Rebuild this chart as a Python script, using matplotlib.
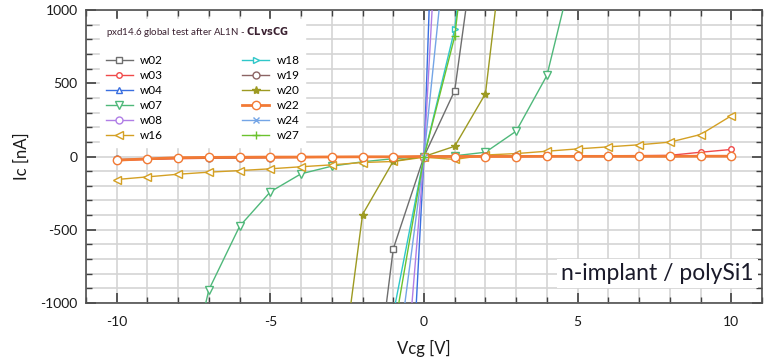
"""
Ic vs Vcg sweep, pxd14.6 global test after AL1N (CLvsCG), n-implant / polySi1
"""
import numpy as np
import matplotlib
matplotlib.use('Agg')
import matplotlib.pyplot as plt
from matplotlib.ticker import MultipleLocator

plt.rcParams['font.family'] = ['Lato', 'DejaVu Sans']
plt.rcParams['axes.unicode_minus'] = False

# ── Data ─────────────────────────────────────────────────────────────────────
vcg = [-10, -9, -8, -7, -6, -5, -4, -3, -2, -1, 0, 1, 2, 3, 4, 5, 6, 7, 8, 9, 10]

w02 = [-12000, -11000, -10000, -9000, -8000, -7000, -6000, -4000, -2300, -630, 0,
       450, 1980, 4000, 6000, 8000, 10000, 12000, 14000, 16000, 18000]
w03 = [-28, -20, -15, -12, -10, -8, -6, -5, -4, -3, 0,
       1, 2, 2, 3, 4, 5, 6, 8, 29, 48]
w04 = [-40000, -36000, -32000, -28000, -24000, -20000, -16000, -12000, -8000, -4000, 0,
       6000, 12000, 18000, 24000, 30000, 36000, 42000, 48000, 54000, 60000]
w07 = [-7000, -3500, -1800, -909, -476, -241, -118, -66, -36, -15, 0,
       5, 29, 173, 553, 1410, 3000, 6000, 12000, 24000, 48000]
w08 = [-25600, -23000, -20500, -18000, -15400, -12800, -10200, -7700, -5100, -2560, 0,
       3800, 7600, 11400, 15200, 19000, 22800, 26600, 30400, 34200, 38000]
w16 = [-157, -139, -121, -107, -96, -84, -70, -57, -41, -34, -5,
       -20, 10, 20, 36, 52, 66, 80, 98, 150, 278]
w18 = [-10000, -9000, -8000, -7000, -6400, -5400, -4300, -3200, -2150, -1075, 0,
       870, 2700, 4500, 6300, 8100, 9900, 11700, 13500, 15300, 17100]
w19 = [-20, -16, -12, -10, -8, -7, -6, -5, -4, -2, 0,
       0, 1, 1, 2, 2, 3, 3, 4, 4, 5]
w20 = [-12000, -10000, -8500, -7000, -6000, -5000, -3500, -2000, -396, -32, 0,
       70, 429, 2200, 4000, 6000, 8000, 10000, 12000, 14000, 16000]
w22 = [-25, -16, -8, -6, -5, -4, -4, -3, -2, -2, 0,
       0, 0, 0, 1, 1, 1, 1, 1, 2, 2]
w24 = [-16100, -14500, -12900, -11300, -9700, -8000, -6400, -4800, -3200, -1610, 0,
       2040, 4080, 6100, 8200, 10200, 12200, 14300, 16300, 18400, 20400]
w27 = [-12200, -11000, -9800, -8500, -7300, -6100, -4900, -3700, -2400, -1220, 0,
       820, 2600, 4400, 6200, 8000, 9800, 11600, 13400, 15200, 17000]

series = [
    ('w02', w02, '#6e6e6e', 's', 5, 1.0),
    ('w03', w03, '#f04a4a', 'o', 4, 1.0),
    ('w04', w04, '#3a6fe0', '^', 5, 1.0),
    ('w07', w07, '#4fb87a', 'v', 6, 1.0),
    ('w08', w08, '#b07ee6', 'o', 5, 1.0),
    ('w16', w16, '#d4a024', '<', 6, 1.0),
    ('w18', w18, '#2fc7c9', '>', 5, 1.0),
    ('w19', w19, '#8c6464', 'o', 5, 1.0),
    ('w20', w20, '#9d9a22', '*', 6, 1.0),
    ('w22', w22, '#f27a35', 'o', 6, 2.0),
    ('w24', w24, '#74a5e6', 'x', 5, 1.0),
    ('w27', w27, '#6cc22e', '+', 6, 1.0),
]

# ── Figure ────────────────────────────────────────────────────────────────────
fig = plt.figure(figsize=(7.69, 3.61), dpi=100)
ax = fig.add_axes([86 / 769, 58 / 361, 676 / 769, 293 / 361])

for name, vals, col, mk, ms, lw in series:
    filled = mk in ('*', 'x', '+')
    ax.plot(vcg, vals, color=col, lw=lw, marker=mk, ms=ms,
            mfc=col if filled else 'white', mec=col, mew=1.0, label=name,
            zorder=3)

ax.set_xlim(-11, 11)
ax.set_ylim(-1000, 1000)
ax.xaxis.set_major_locator(MultipleLocator(5))
ax.xaxis.set_minor_locator(MultipleLocator(1))
ax.yaxis.set_major_locator(MultipleLocator(500))
ax.yaxis.set_minor_locator(MultipleLocator(100))
ax.grid(True, which='both', color='#d4d4d4', lw=1.2, zorder=0)
ax.set_axisbelow(True)

ax.tick_params(which='both', direction='in', top=True, right=True,
               colors='#404040', labelcolor='#1a1a1a', labelsize=10)
ax.tick_params(which='major', length=7, width=1.2)
ax.tick_params(which='minor', length=4, width=1.0)
ax.tick_params(axis='x', pad=9)
ax.tick_params(axis='y', pad=6)
for s in ax.spines.values():
    s.set_color('#505050')
    s.set_linewidth(1.2)

ax.set_xlabel('Vcg [V]', fontsize=12, labelpad=9, color='#1a1a1a')
ax.set_ylabel('Ic [nA]', fontsize=12, labelpad=8, color='#1a1a1a')

leg = ax.legend(ncol=2, loc='upper left', bbox_to_anchor=(0.012, 0.99),
                title='pxd14.6 global test after AL1N - $\\bf{CLvsCG}$',
                title_fontsize=7, fontsize=8.5, frameon=True, fancybox=False,
                edgecolor='white', framealpha=1.0, handlelength=2.3,
                handletextpad=0.6, labelspacing=0.33, columnspacing=6.7,
                alignment='left', borderpad=0.5)
leg.get_title().set_color('#3a2030')
leg._legend_box.sep = 12
leg.set_zorder(4)

ax.text(0.988, 0.1, 'n-implant / polySi1', transform=ax.transAxes,
        ha='right', va='center', fontsize=16.5, color='#1a1a2a', zorder=5,
        bbox=dict(facecolor='white', edgecolor='none', pad=3))

plt.savefig('out.png', dpi=100)
plt.close()
